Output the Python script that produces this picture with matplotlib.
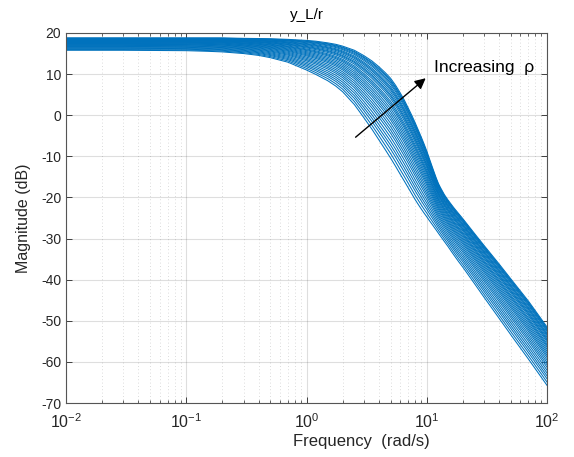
import numpy as np
import matplotlib
matplotlib.use("Agg")
import matplotlib.pyplot as plt

plt.rcParams["font.family"] = ["Liberation Sans", "DejaVu Sans"]
plt.rcParams["mathtext.fontset"] = "custom"
plt.rcParams["mathtext.rm"] = "Liberation Sans"
plt.rcParams["mathtext.it"] = "Liberation Sans:italic"
plt.rcParams["axes.unicode_minus"] = False

# frequency grid (rad/s) at which the two edge curves were read
freq = [0.01, 0.03, 0.1, 0.15, 0.2, 0.3, 0.4, 0.5, 0.7,
        1, 1.2, 1.5, 1.75, 2, 2.5, 3, 3.5, 4, 4.5,
        5, 5.5, 6, 6.5, 7, 7.5, 8, 8.5, 9, 9.5,
        10, 10.5, 11, 11.5, 12, 12.5, 13, 14, 15, 16,
        17, 18.5, 20, 25, 30, 40, 50, 70, 100]

# lowest curve (smallest rho), dB
mag_lo = [15.8, 15.8, 15.7, 15.55, 15.4, 15.0, 14.55, 14.0, 12.9,
          11.0, 9.9, 8.4, 7.1, 5.7, 2.6, -0.6, -3.4, -6.0, -8.3,
          -10.4, -12.4, -14.3, -16.0, -17.6, -19.1, -20.5, -21.7, -22.8, -23.8,
          -24.7, -25.6, -26.4, -27.2, -27.95, -28.7, -29.4, -30.7, -31.9, -33.1,
          -34.2, -35.7, -37.0, -41.0, -44.3, -49.4, -53.4, -59.3, -65.7]

# highest curve (largest rho), dB
mag_hi = [18.8, 18.8, 18.8, 18.8, 18.8, 18.7, 18.65, 18.6, 18.45,
          18.2, 18.0, 17.6, 17.25, 16.8, 15.8, 14.5, 13.2, 11.8, 10.4,
          9.0, 7.3, 5.5, 3.7, 1.8, 0.0, -1.8, -3.6, -5.3, -7.0,
          -8.7, -10.5, -12.2, -13.8, -15.3, -16.6, -17.6, -19.3, -20.6, -21.7,
          -22.7, -24.0, -25.2, -28.8, -31.7, -36.2, -39.8, -45.2, -51.5]

# where each curve of the family ends at 100 rad/s, dB
hf_gain = [-65.7, -64.9, -64.1, -63.4, -62.7, -62.0, -61.3, -60.7, -60.1, -59.5,
           -58.9, -58.4, -57.9, -57.4, -56.9, -56.4, -56.0, -55.6, -55.1, -54.7,
           -54.4, -54.0, -53.6, -53.3, -53.0, -52.6, -52.3, -52.0, -51.8, -51.5]

yticks = [-70, -60, -50, -40, -30, -20, -10, 0, 10, 20]

LINE = "#0072BD"
AXC = "#262626"

f = np.array(freq)
lo = np.array(mag_lo)
hi = np.array(mag_hi)

fig = plt.figure(figsize=(5.74, 4.57), dpi=100)
ax = fig.add_axes([66 / 574, 54 / 457, 481 / 574, 370 / 457])

for g in hf_gain:
    w = (g - lo[-1]) / (hi[-1] - lo[-1])
    ax.semilogx(f, lo + w * (hi - lo), color=LINE, lw=0.75)

ax.set_xlim(0.01, 100)
ax.set_ylim(-70, 20)
ax.set_yticks(yticks)

# matlab-like grid and box
ax.grid(True, which="major", color=AXC, alpha=0.15, lw=0.8)
ax.grid(True, which="minor", axis="x", color=AXC, alpha=0.22, lw=0.6, ls=(0, (1, 3)))
ax.tick_params(which="both", direction="in", top=True, right=True,
               colors=AXC, labelcolor=AXC)
ax.tick_params(axis="y", labelsize=10)
ax.tick_params(axis="x", labelsize=11.5, pad=7)
ax.tick_params(which="major", length=4.5, width=0.6)
ax.tick_params(which="minor", length=2.5, width=0.5)
for s in ax.spines.values():
    s.set_color("#555555")
    s.set_linewidth(0.8)

ax.set_title("y_L/r", fontsize=11, color="k", pad=10)
ax.set_xlabel("Frequency  (rad/s)", fontsize=12, color=AXC)
ax.xaxis.set_label_coords(0.615, -0.085)
ax.set_ylabel("Magnitude (dB)", fontsize=11.5, color=AXC, labelpad=7)

ax.annotate("", xy=(9.8, 9.0), xytext=(2.56, -5.35),
            arrowprops=dict(arrowstyle="-|>", color="k", lw=1.0,
                            mutation_scale=16, shrinkA=0, shrinkB=0))
ax.text(11.4, 11.7, "Increasing  \u03c1", fontsize=12.5, va="center", ha="left")

fig.savefig("out.png", dpi=100)
